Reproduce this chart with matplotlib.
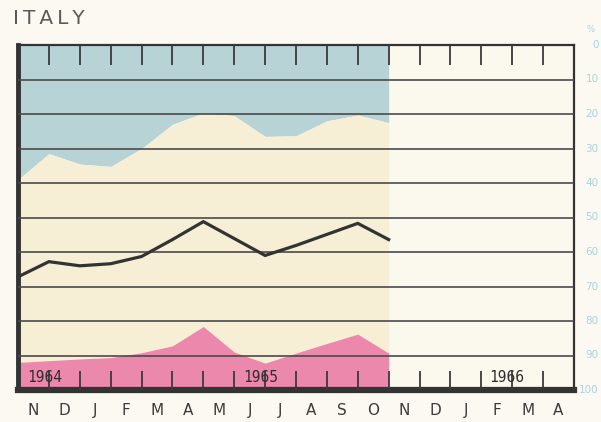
import numpy as np
import matplotlib.pyplot as plt

# Meses (nov 1964 - abr 1966) y series, en %
meses = ['N', 'D', 'J', 'F', 'M', 'A', 'M', 'J', 'J', 'A', 'S', 'O',
         'N', 'D', 'J', 'F', 'M', 'A']
anios = ['1964', '1965', '1966']
pos_anios = [0.3, 7.3, 15.25]

# límites de las zonas (0 arriba, 100 abajo), un valor por mes nov-64 .. nov-65
azul = [39, 31.5, 34.5, 35.2, 30, 23, 19.7, 20.5, 26.5, 26.3, 22, 20.3, 22.5]
rosa = [92, 91.5, 91, 90.6, 89.2, 87.2, 81.6, 89, 92.2, 89.3, 86.5, 83.8, 89.3]
linea = [67.2, 62.8, 64.0, 63.4, 61.3, 56.4, 51.2, 56.1, 61.0, 58.1, 54.9, 51.7, 56.4]

fondo = '#fbf9f1'
fig = plt.figure(figsize=(6.01, 4.22), dpi=100, facecolor=fondo)
ax = fig.add_axes([18 / 601, 1 - 390 / 422, 556 / 601, 345 / 422])
ax.set_facecolor('#fbf8ee')

x = np.arange(len(azul))
ax.fill_between(x, 0, azul, color='#b8d3d6', lw=0)
ax.fill_between(x, azul, rosa, color='#f6efd6', lw=0)
ax.fill_between(x, rosa, 100, color='#eb88ab', lw=0)
ax.plot(x, linea, color='#333333', lw=2.3, solid_joinstyle='miter', zorder=4)

ax.set_xlim(0, len(meses))
ax.set_ylim(100, 0)

# líneas horizontales cada 10 %
for y in range(10, 100, 10):
    ax.axhline(y, color='#4a4a4a', lw=1.2, zorder=3)

# marcas de mes arriba y abajo
ticks = np.arange(1, len(meses))
ax.vlines(ticks, 0, 5.8, color='#3a3a3a', lw=1.3, zorder=3)
ax.vlines(ticks, 94.5, 100, color='#3a3a3a', lw=1.3, zorder=3)

for a, p in zip(anios, pos_anios):
    ax.text(p, 96.3, a, fontsize=10.5, color='#2e2e2e', va='center', ha='left',
            family='DejaVu Sans Mono', zorder=5)

ax.set_xticks([])
ax.set_yticks([])
for lado, grosor in [('left', 3.5), ('bottom', 4.5), ('top', 1.6), ('right', 1.6)]:
    ax.spines[lado].set_linewidth(grosor)
    ax.spines[lado].set_color('#333333')

# etiquetas de meses
for i, m in enumerate(meses):
    ax.text(i + 0.5, 106, m, fontsize=11, color='#3c3c3c', ha='center', va='center',
            clip_on=False)

# escala de porcentaje a la derecha
for v in range(0, 101, 10):
    ax.text(18.8, v, str(v), fontsize=7.5, color='#a9d3e3', ha='right', va='center',
            clip_on=False)
ax.text(18.55, -4.5, '%', fontsize=6, color='#a9d3e3', ha='center', va='center',
        clip_on=False)

fig.text(13 / 601, 1 - 18 / 422, 'I\u2009T\u2009A\u2009L\u2009Y', fontsize=14.5,
         color='#5a5a5a', ha='left', va='center')

fig.savefig('out.png', dpi=100, facecolor=fondo)
